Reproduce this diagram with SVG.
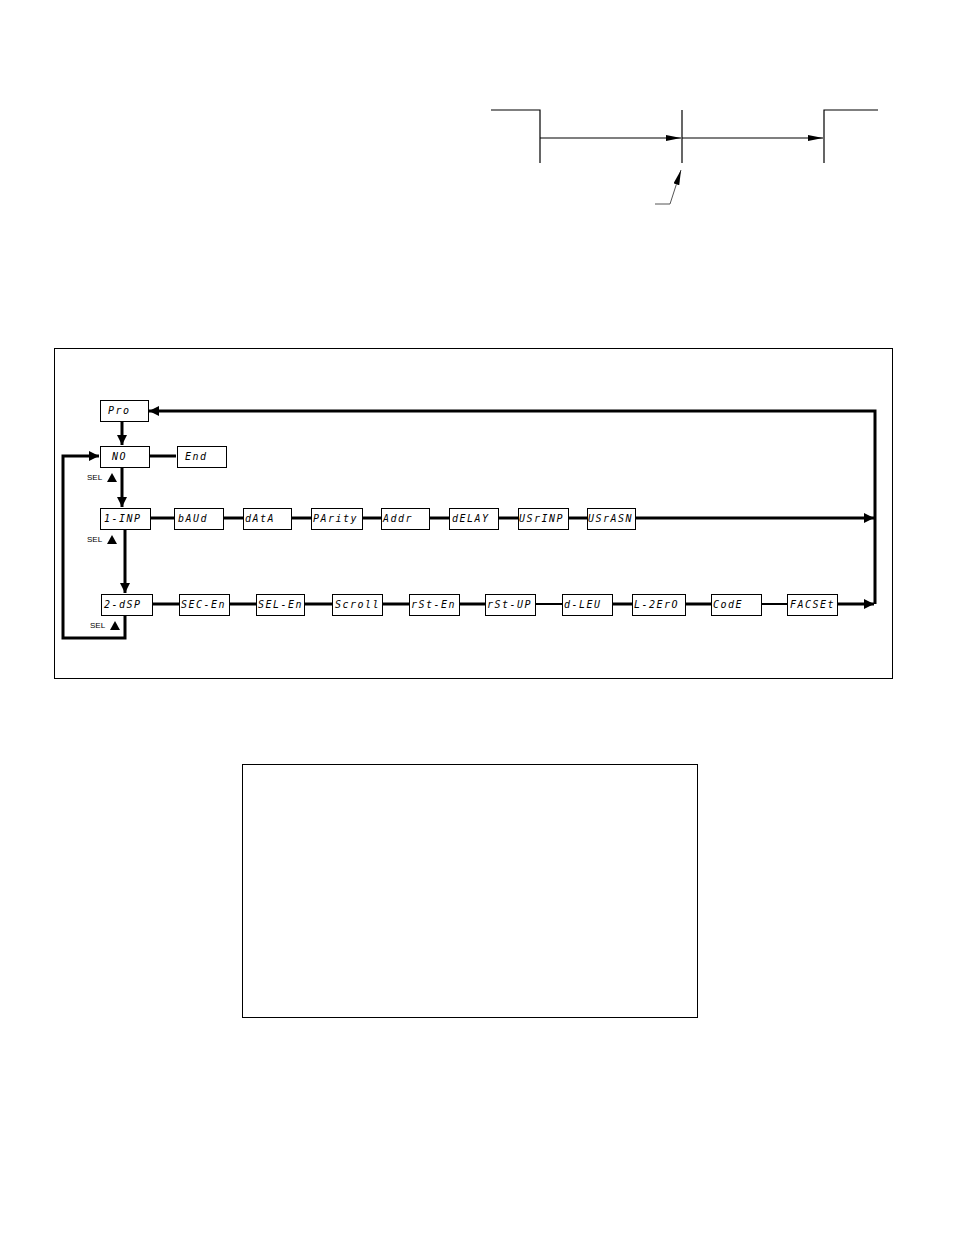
<svg xmlns="http://www.w3.org/2000/svg" width="954" height="1235" viewBox="0 0 954 1235">
<style>
.box{fill:#fff;stroke:#000;stroke-width:1}
.lbl{font-family:"DejaVu Sans Mono",monospace;font-style:italic;font-size:10px;letter-spacing:1.5px;fill:#000}
.sel{font-family:"Liberation Sans",Arial,sans-serif;font-size:8px;fill:#000}
.thick{stroke:#000;stroke-width:3;fill:none}
.mid{stroke:#000;stroke-width:2;fill:none}
.thin{stroke:#000;stroke-width:1.2;fill:none}
</style>
<defs>
<marker id="ah" markerUnits="userSpaceOnUse" markerWidth="12" markerHeight="10" refX="10" refY="5" orient="auto"><path d="M0,0 L10,5 L0,10 Z" fill="#000"/></marker>
<marker id="ta" markerUnits="userSpaceOnUse" markerWidth="16" markerHeight="8" refX="15" refY="3" orient="auto"><path d="M0,0 L15,3 L0,6 Z" fill="#000"/></marker>
</defs>
<rect width="954" height="1235" fill="#fff"/>

<g id="timing">
<polyline class="thin" points="491,110 540,110 540,163"/>
<line class="thin" x1="682" y1="110" x2="682" y2="163"/>
<polyline class="thin" points="824,163 824,110 878,110"/>
<line class="thin" x1="540" y1="138" x2="681" y2="138" marker-end="url(#ta)"/>
<line class="thin" x1="682" y1="138" x2="823" y2="138" marker-end="url(#ta)"/>
<polyline points="655,204 670,204 681,170" fill="none" stroke="#555" stroke-width="1" marker-end="url(#ta)"/>
</g>

<rect x="54.5" y="348.5" width="838" height="330" fill="none" stroke="#000" stroke-width="1"/>

<g id="connectors">
<line class="thick" x1="122" y1="422" x2="122" y2="445" marker-end="url(#ah)"/>
<line class="thick" x1="149" y1="456" x2="176" y2="456"/>
<line class="thick" x1="122" y1="467" x2="122" y2="507" marker-end="url(#ah)"/>
<line class="thick" x1="125" y1="529" x2="125" y2="593" marker-end="url(#ah)"/>
<polyline class="thick" points="125,615 125,638 63,638 63,456 99,456" marker-end="url(#ah)"/>
<line class="thick" x1="150" y1="518" x2="174" y2="518"/>
<line class="thick" x1="223" y1="518" x2="243" y2="518"/>
<line class="thick" x1="291" y1="518" x2="311" y2="518"/>
<line class="thick" x1="362" y1="518" x2="381" y2="518"/>
<line class="thick" x1="429" y1="518" x2="449" y2="518"/>
<line class="thick" x1="498" y1="518" x2="518" y2="518"/>
<line class="thick" x1="568" y1="518" x2="587" y2="518"/>
<line class="thick" x1="635" y1="518" x2="874" y2="518" marker-end="url(#ah)"/>
<line class="thick" x1="152" y1="604" x2="179" y2="604"/>
<line class="thick" x1="229" y1="604" x2="256" y2="604"/>
<line class="thick" x1="304" y1="604" x2="332" y2="604"/>
<line class="thick" x1="382" y1="604" x2="409" y2="604"/>
<line class="thick" x1="459" y1="604" x2="485" y2="604"/>
<line class="mid" x1="535" y1="604" x2="562" y2="604"/>
<line class="thick" x1="612" y1="604" x2="632" y2="604"/>
<line class="thick" x1="685" y1="604" x2="711" y2="604"/>
<line class="mid" x1="761" y1="604" x2="787" y2="604"/>
<line class="thick" x1="837" y1="604" x2="874" y2="604" marker-end="url(#ah)"/>
<polyline class="thick" points="875,604 875,411 149,411" marker-end="url(#ah)"/>
</g>

<g id="n-pro"><rect class="box" x="100.5" y="400.5" width="48" height="21"/><text class="lbl" x="108" y="414">Pro</text></g>
<g id="n-no"><rect class="box" x="100.5" y="446.5" width="49" height="21"/><text class="lbl" x="112" y="460">NO</text></g>
<g id="n-end"><rect class="box" x="177.5" y="446.5" width="49" height="21"/><text class="lbl" x="185" y="460">End</text></g>

<g id="n-1inp"><rect class="box" x="100.5" y="508.5" width="50" height="21"/><text class="lbl" x="104" y="522">1-INP</text></g>
<g id="n-baud"><rect class="box" x="174.5" y="508.5" width="49" height="21"/><text class="lbl" x="178" y="522">bAUd</text></g>
<g id="n-data"><rect class="box" x="243.5" y="508.5" width="48" height="21"/><text class="lbl" x="245" y="522">dAtA</text></g>
<g id="n-parity"><rect class="box" x="311.5" y="508.5" width="51" height="21"/><text class="lbl" x="313" y="522">PArity</text></g>
<g id="n-addr"><rect class="box" x="381.5" y="508.5" width="48" height="21"/><text class="lbl" x="383" y="522">Addr</text></g>
<g id="n-delay"><rect class="box" x="449.5" y="508.5" width="49" height="21"/><text class="lbl" x="452" y="522">dELAY</text></g>
<g id="n-usrinp"><rect class="box" x="518.5" y="508.5" width="50" height="21"/><text class="lbl" x="519" y="522">USrINP</text></g>
<g id="n-usrasn"><rect class="box" x="587.5" y="508.5" width="48" height="21"/><text class="lbl" x="588" y="522">USrASN</text></g>

<g id="n-2dsp"><rect class="box" x="101.5" y="594.5" width="51" height="21"/><text class="lbl" x="104" y="608">2-dSP</text></g>
<g id="n-secen"><rect class="box" x="179.5" y="594.5" width="50" height="21"/><text class="lbl" x="181" y="608">SEC-En</text></g>
<g id="n-selen"><rect class="box" x="256.5" y="594.5" width="48" height="21"/><text class="lbl" x="258" y="608">SEL-En</text></g>
<g id="n-scroll"><rect class="box" x="332.5" y="594.5" width="50" height="21"/><text class="lbl" x="335" y="608">Scroll</text></g>
<g id="n-rsten"><rect class="box" x="409.5" y="594.5" width="50" height="21"/><text class="lbl" x="411" y="608">rSt-En</text></g>
<g id="n-rstup"><rect class="box" x="485.5" y="594.5" width="50" height="21"/><text class="lbl" x="487" y="608">rSt-UP</text></g>
<g id="n-dleu"><rect class="box" x="562.5" y="594.5" width="50" height="21"/><text class="lbl" x="564" y="608">d-LEU</text></g>
<g id="n-l2ero"><rect class="box" x="632.5" y="594.5" width="53" height="21"/><text class="lbl" x="634" y="608">L-2ErO</text></g>
<g id="n-code"><rect class="box" x="711.5" y="594.5" width="50" height="21"/><text class="lbl" x="713" y="608">CodE</text></g>
<g id="n-facset"><rect class="box" x="787.5" y="594.5" width="50" height="21"/><text class="lbl" x="790" y="608">FACSEt</text></g>

<g id="sel-labels">
<text class="sel" x="87" y="480">SEL</text><path d="M107,482 L112,473 L117,482 Z" fill="#000"/>
<text class="sel" x="87" y="542">SEL</text><path d="M107,544 L112,535 L117,544 Z" fill="#000"/>
<text class="sel" x="90" y="628">SEL</text><path d="M110,630 L115,621 L120,630 Z" fill="#000"/>
</g>

<rect x="242.5" y="764.5" width="455" height="253" fill="none" stroke="#000" stroke-width="1"/>
</svg>
